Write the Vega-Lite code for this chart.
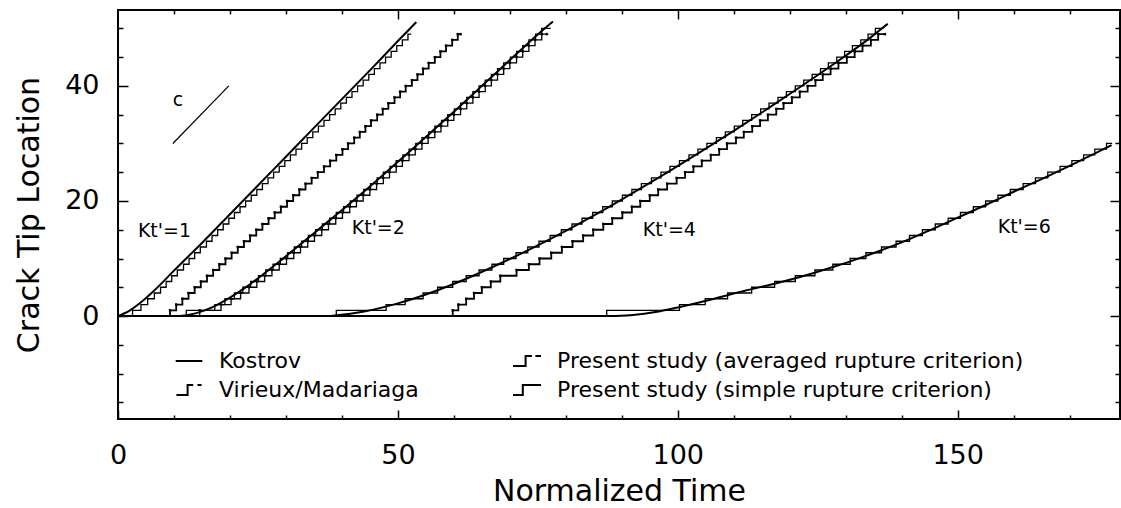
{
"$schema":"https://vega.github.io/schema/vega-lite/v6.json",
"width":1002,"height":409,
"autosize":{"type":"none"},
"padding":{"left":118,"top":10,"right":1,"bottom":89},
"background":"white",
"config":{
 "view":{"stroke":"black","strokeWidth":2},
 "font":"DejaVu Sans",
 "axis":{"grid":false,"domain":false,"tickColor":"black","tickWidth":1.5,"labelColor":"black","titleColor":"black","labelFont":"DejaVu Sans","titleFont":"DejaVu Sans","labelFontSize":27,"titleFontSize":30,"titleFontWeight":"normal","labelOverlap":false,"labelFlush":false}
},
"datasets":{
"curves":[
{"g":"K1","s":"Kostrov","t":0,"y":0},{"g":"K1","s":"Kostrov","t":2,"y":0.9},{"g":"K1","s":"Kostrov","t":4,"y":2.3},{"g":"K1","s":"Kostrov","t":6,"y":4.0},{"g":"K1","s":"Kostrov","t":8,"y":5.9},{"g":"K1","s":"Kostrov","t":10,"y":7.9},{"g":"K1","s":"Kostrov","t":15,"y":12.7},{"g":"K1","s":"Kostrov","t":20,"y":17.7},{"g":"K1","s":"Kostrov","t":25,"y":22.7},{"g":"K1","s":"Kostrov","t":30,"y":27.7},{"g":"K1","s":"Kostrov","t":35,"y":32.7},{"g":"K1","s":"Kostrov","t":40,"y":37.7},{"g":"K1","s":"Kostrov","t":45,"y":42.7},{"g":"K1","s":"Kostrov","t":50,"y":47.8},{"g":"K1","s":"Kostrov","t":53.3,"y":51.1},
{"g":"K2","s":"Kostrov","t":11,"y":0},{"g":"K2","s":"Kostrov","t":14,"y":0.5},{"g":"K2","s":"Kostrov","t":17,"y":1.6},{"g":"K2","s":"Kostrov","t":20,"y":3.2},{"g":"K2","s":"Kostrov","t":23,"y":5.1},{"g":"K2","s":"Kostrov","t":26,"y":7.3},{"g":"K2","s":"Kostrov","t":29,"y":9.6},{"g":"K2","s":"Kostrov","t":32,"y":12.0},{"g":"K2","s":"Kostrov","t":35,"y":14.4},{"g":"K2","s":"Kostrov","t":38,"y":16.8},{"g":"K2","s":"Kostrov","t":41,"y":19.2},{"g":"K2","s":"Kostrov","t":44,"y":21.7},{"g":"K2","s":"Kostrov","t":47,"y":24.2},{"g":"K2","s":"Kostrov","t":50,"y":26.8},{"g":"K2","s":"Kostrov","t":53,"y":29.4},{"g":"K2","s":"Kostrov","t":56,"y":32.0},{"g":"K2","s":"Kostrov","t":60,"y":35.5},{"g":"K2","s":"Kostrov","t":64,"y":39.1},{"g":"K2","s":"Kostrov","t":68,"y":42.7},{"g":"K2","s":"Kostrov","t":72,"y":46.3},{"g":"K2","s":"Kostrov","t":76,"y":49.8},{"g":"K2","s":"Kostrov","t":77.7,"y":51.2},
{"g":"K4","s":"Kostrov","t":38,"y":0},{"g":"K4","s":"Kostrov","t":44,"y":0.8},{"g":"K4","s":"Kostrov","t":50,"y":2.2},{"g":"K4","s":"Kostrov","t":56,"y":4.1},{"g":"K4","s":"Kostrov","t":62,"y":6.4},{"g":"K4","s":"Kostrov","t":68,"y":9.0},{"g":"K4","s":"Kostrov","t":74,"y":11.8},{"g":"K4","s":"Kostrov","t":80,"y":14.8},{"g":"K4","s":"Kostrov","t":86,"y":18.0},{"g":"K4","s":"Kostrov","t":92,"y":21.4},{"g":"K4","s":"Kostrov","t":98,"y":24.9},{"g":"K4","s":"Kostrov","t":104,"y":28.5},{"g":"K4","s":"Kostrov","t":110,"y":32.2},{"g":"K4","s":"Kostrov","t":116,"y":36.0},{"g":"K4","s":"Kostrov","t":122,"y":39.9},{"g":"K4","s":"Kostrov","t":128,"y":43.9},{"g":"K4","s":"Kostrov","t":134,"y":48.1},{"g":"K4","s":"Kostrov","t":137.5,"y":50.8},
{"g":"K6","s":"Kostrov","t":0,"y":0},{"g":"K6","s":"Kostrov","t":88,"y":0},{"g":"K6","s":"Kostrov","t":92,"y":0.2},{"g":"K6","s":"Kostrov","t":96,"y":0.7},{"g":"K6","s":"Kostrov","t":100,"y":1.5},{"g":"K6","s":"Kostrov","t":104,"y":2.4},{"g":"K6","s":"Kostrov","t":108,"y":3.4},{"g":"K6","s":"Kostrov","t":112,"y":4.4},{"g":"K6","s":"Kostrov","t":116,"y":5.3},{"g":"K6","s":"Kostrov","t":120,"y":6.3},{"g":"K6","s":"Kostrov","t":124,"y":7.4},{"g":"K6","s":"Kostrov","t":128,"y":8.6},{"g":"K6","s":"Kostrov","t":132,"y":9.9},{"g":"K6","s":"Kostrov","t":136,"y":11.3},{"g":"K6","s":"Kostrov","t":140,"y":12.8},{"g":"K6","s":"Kostrov","t":145,"y":14.9},{"g":"K6","s":"Kostrov","t":150,"y":17.1},{"g":"K6","s":"Kostrov","t":155,"y":19.3},{"g":"K6","s":"Kostrov","t":160,"y":21.6},{"g":"K6","s":"Kostrov","t":165,"y":23.8},{"g":"K6","s":"Kostrov","t":170,"y":26.1},{"g":"K6","s":"Kostrov","t":175,"y":28.5},{"g":"K6","s":"Kostrov","t":177.5,"y":29.7},
{"g":"A1","s":"avg","t":2.2,"y":0},{"g":"A1","s":"avg","t":2.6,"y":1},{"g":"A1","s":"avg","t":4.1,"y":2},{"g":"A1","s":"avg","t":5.3,"y":3},{"g":"A1","s":"avg","t":6.5,"y":4},{"g":"A1","s":"avg","t":7.6,"y":5},{"g":"A1","s":"avg","t":8.6,"y":6},{"g":"A1","s":"avg","t":9.6,"y":7},{"g":"A1","s":"avg","t":10.6,"y":8},{"g":"A1","s":"avg","t":11.7,"y":9},{"g":"A1","s":"avg","t":12.7,"y":10},{"g":"A1","s":"avg","t":13.7,"y":11},{"g":"A1","s":"avg","t":14.7,"y":12},{"g":"A1","s":"avg","t":15.8,"y":13},{"g":"A1","s":"avg","t":16.8,"y":14},{"g":"A1","s":"avg","t":17.8,"y":15},{"g":"A1","s":"avg","t":18.8,"y":16},{"g":"A1","s":"avg","t":19.8,"y":17},{"g":"A1","s":"avg","t":20.8,"y":18},{"g":"A1","s":"avg","t":21.8,"y":19},{"g":"A1","s":"avg","t":22.8,"y":20},{"g":"A1","s":"avg","t":23.8,"y":21},{"g":"A1","s":"avg","t":24.8,"y":22},{"g":"A1","s":"avg","t":25.8,"y":23},{"g":"A1","s":"avg","t":26.8,"y":24},{"g":"A1","s":"avg","t":27.8,"y":25},{"g":"A1","s":"avg","t":28.8,"y":26},{"g":"A1","s":"avg","t":29.8,"y":27},{"g":"A1","s":"avg","t":30.8,"y":28},{"g":"A1","s":"avg","t":31.8,"y":29},{"g":"A1","s":"avg","t":32.8,"y":30},{"g":"A1","s":"avg","t":33.8,"y":31},{"g":"A1","s":"avg","t":34.8,"y":32},{"g":"A1","s":"avg","t":35.8,"y":33},{"g":"A1","s":"avg","t":36.8,"y":34},{"g":"A1","s":"avg","t":37.8,"y":35},{"g":"A1","s":"avg","t":38.8,"y":36},{"g":"A1","s":"avg","t":39.8,"y":37},{"g":"A1","s":"avg","t":40.8,"y":38},{"g":"A1","s":"avg","t":41.8,"y":39},{"g":"A1","s":"avg","t":42.8,"y":40},{"g":"A1","s":"avg","t":43.8,"y":41},{"g":"A1","s":"avg","t":44.8,"y":42},{"g":"A1","s":"avg","t":45.8,"y":43},{"g":"A1","s":"avg","t":46.8,"y":44},{"g":"A1","s":"avg","t":47.8,"y":45},{"g":"A1","s":"avg","t":48.8,"y":46},{"g":"A1","s":"avg","t":49.8,"y":47},{"g":"A1","s":"avg","t":50.8,"y":48},{"g":"A1","s":"avg","t":51.8,"y":49},{"g":"A1","s":"avg","t":52.4,"y":49},
{"g":"S1","s":"simple","t":9.0,"y":0},{"g":"S1","s":"simple","t":9.3,"y":1},{"g":"S1","s":"simple","t":10.4,"y":2},{"g":"S1","s":"simple","t":11.5,"y":3},{"g":"S1","s":"simple","t":12.6,"y":4},{"g":"S1","s":"simple","t":13.7,"y":5},{"g":"S1","s":"simple","t":14.8,"y":6},{"g":"S1","s":"simple","t":15.9,"y":7},{"g":"S1","s":"simple","t":17.0,"y":8},{"g":"S1","s":"simple","t":18.1,"y":9},{"g":"S1","s":"simple","t":19.2,"y":10},{"g":"S1","s":"simple","t":20.3,"y":11},{"g":"S1","s":"simple","t":21.4,"y":12},{"g":"S1","s":"simple","t":22.5,"y":13},{"g":"S1","s":"simple","t":23.6,"y":14},{"g":"S1","s":"simple","t":24.7,"y":15},{"g":"S1","s":"simple","t":25.8,"y":16},{"g":"S1","s":"simple","t":26.9,"y":17},{"g":"S1","s":"simple","t":28.0,"y":18},{"g":"S1","s":"simple","t":29.1,"y":19},{"g":"S1","s":"simple","t":30.2,"y":20},{"g":"S1","s":"simple","t":31.3,"y":21},{"g":"S1","s":"simple","t":32.4,"y":22},{"g":"S1","s":"simple","t":33.5,"y":23},{"g":"S1","s":"simple","t":34.6,"y":24},{"g":"S1","s":"simple","t":35.7,"y":25},{"g":"S1","s":"simple","t":36.8,"y":26},{"g":"S1","s":"simple","t":37.9,"y":27},{"g":"S1","s":"simple","t":39.0,"y":28},{"g":"S1","s":"simple","t":40.1,"y":29},{"g":"S1","s":"simple","t":41.1,"y":30},{"g":"S1","s":"simple","t":42.2,"y":31},{"g":"S1","s":"simple","t":43.2,"y":32},{"g":"S1","s":"simple","t":44.2,"y":33},{"g":"S1","s":"simple","t":45.2,"y":34},{"g":"S1","s":"simple","t":46.3,"y":35},{"g":"S1","s":"simple","t":47.3,"y":36},{"g":"S1","s":"simple","t":48.3,"y":37},{"g":"S1","s":"simple","t":49.4,"y":38},{"g":"S1","s":"simple","t":50.4,"y":39},{"g":"S1","s":"simple","t":51.4,"y":40},{"g":"S1","s":"simple","t":52.5,"y":41},{"g":"S1","s":"simple","t":53.5,"y":42},{"g":"S1","s":"simple","t":54.5,"y":43},{"g":"S1","s":"simple","t":55.5,"y":44},{"g":"S1","s":"simple","t":56.6,"y":45},{"g":"S1","s":"simple","t":57.6,"y":46},{"g":"S1","s":"simple","t":58.6,"y":47},{"g":"S1","s":"simple","t":59.7,"y":48},{"g":"S1","s":"simple","t":60.7,"y":49},{"g":"S1","s":"simple","t":61.2,"y":49},
{"g":"A2","s":"avg","t":11.9,"y":0},{"g":"A2","s":"avg","t":12.2,"y":1},{"g":"A2","s":"avg","t":17.3,"y":2},{"g":"A2","s":"avg","t":19.1,"y":3},{"g":"A2","s":"avg","t":20.8,"y":4},{"g":"A2","s":"avg","t":22.3,"y":5},{"g":"A2","s":"avg","t":23.7,"y":6},{"g":"A2","s":"avg","t":25.1,"y":7},{"g":"A2","s":"avg","t":26.4,"y":8},{"g":"A2","s":"avg","t":27.7,"y":9},{"g":"A2","s":"avg","t":29.0,"y":10},{"g":"A2","s":"avg","t":30.3,"y":11},{"g":"A2","s":"avg","t":31.5,"y":12},{"g":"A2","s":"avg","t":32.8,"y":13},{"g":"A2","s":"avg","t":34.0,"y":14},{"g":"A2","s":"avg","t":35.3,"y":15},{"g":"A2","s":"avg","t":36.5,"y":16},{"g":"A2","s":"avg","t":37.8,"y":17},{"g":"A2","s":"avg","t":39.0,"y":18},{"g":"A2","s":"avg","t":40.3,"y":19},{"g":"A2","s":"avg","t":41.5,"y":20},{"g":"A2","s":"avg","t":42.7,"y":21},{"g":"A2","s":"avg","t":43.9,"y":22},{"g":"A2","s":"avg","t":45.1,"y":23},{"g":"A2","s":"avg","t":46.3,"y":24},{"g":"A2","s":"avg","t":47.4,"y":25},{"g":"A2","s":"avg","t":48.6,"y":26},{"g":"A2","s":"avg","t":49.7,"y":27},{"g":"A2","s":"avg","t":50.9,"y":28},{"g":"A2","s":"avg","t":52.0,"y":29},{"g":"A2","s":"avg","t":53.2,"y":30},{"g":"A2","s":"avg","t":54.3,"y":31},{"g":"A2","s":"avg","t":55.5,"y":32},{"g":"A2","s":"avg","t":56.6,"y":33},{"g":"A2","s":"avg","t":57.8,"y":34},{"g":"A2","s":"avg","t":58.9,"y":35},{"g":"A2","s":"avg","t":60.1,"y":36},{"g":"A2","s":"avg","t":61.2,"y":37},{"g":"A2","s":"avg","t":62.3,"y":38},{"g":"A2","s":"avg","t":63.4,"y":39},{"g":"A2","s":"avg","t":64.5,"y":40},{"g":"A2","s":"avg","t":65.6,"y":41},{"g":"A2","s":"avg","t":66.7,"y":42},{"g":"A2","s":"avg","t":67.8,"y":43},{"g":"A2","s":"avg","t":68.9,"y":44},{"g":"A2","s":"avg","t":70.1,"y":45},{"g":"A2","s":"avg","t":71.2,"y":46},{"g":"A2","s":"avg","t":72.3,"y":47},{"g":"A2","s":"avg","t":73.4,"y":48},{"g":"A2","s":"avg","t":74.6,"y":49},{"g":"A2","s":"avg","t":75.7,"y":50},{"g":"A2","s":"avg","t":77.3,"y":50},
{"g":"V2","s":"VM","t":14.3,"y":0},{"g":"V2","s":"VM","t":14.6,"y":1},{"g":"V2","s":"VM","t":18.4,"y":2},{"g":"V2","s":"VM","t":20.2,"y":3},{"g":"V2","s":"VM","t":21.9,"y":4},{"g":"V2","s":"VM","t":23.4,"y":5},{"g":"V2","s":"VM","t":24.8,"y":6},{"g":"V2","s":"VM","t":26.2,"y":7},{"g":"V2","s":"VM","t":27.5,"y":8},{"g":"V2","s":"VM","t":28.8,"y":9},{"g":"V2","s":"VM","t":30.1,"y":10},{"g":"V2","s":"VM","t":31.4,"y":11},{"g":"V2","s":"VM","t":32.6,"y":12},{"g":"V2","s":"VM","t":33.9,"y":13},{"g":"V2","s":"VM","t":35.1,"y":14},{"g":"V2","s":"VM","t":36.4,"y":15},{"g":"V2","s":"VM","t":37.6,"y":16},{"g":"V2","s":"VM","t":38.9,"y":17},{"g":"V2","s":"VM","t":40.1,"y":18},{"g":"V2","s":"VM","t":41.4,"y":19},{"g":"V2","s":"VM","t":42.6,"y":20},{"g":"V2","s":"VM","t":43.8,"y":21},{"g":"V2","s":"VM","t":45.0,"y":22},{"g":"V2","s":"VM","t":46.2,"y":23},{"g":"V2","s":"VM","t":47.4,"y":24},{"g":"V2","s":"VM","t":48.5,"y":25},{"g":"V2","s":"VM","t":49.7,"y":26},{"g":"V2","s":"VM","t":50.8,"y":27},{"g":"V2","s":"VM","t":52.0,"y":28},{"g":"V2","s":"VM","t":53.1,"y":29},{"g":"V2","s":"VM","t":54.3,"y":30},{"g":"V2","s":"VM","t":55.4,"y":31},{"g":"V2","s":"VM","t":56.6,"y":32},{"g":"V2","s":"VM","t":57.7,"y":33},{"g":"V2","s":"VM","t":58.9,"y":34},{"g":"V2","s":"VM","t":60.0,"y":35},{"g":"V2","s":"VM","t":61.2,"y":36},{"g":"V2","s":"VM","t":62.3,"y":37},{"g":"V2","s":"VM","t":63.4,"y":38},{"g":"V2","s":"VM","t":64.5,"y":39},{"g":"V2","s":"VM","t":65.6,"y":40},{"g":"V2","s":"VM","t":66.7,"y":41},{"g":"V2","s":"VM","t":67.8,"y":42},{"g":"V2","s":"VM","t":68.9,"y":43},{"g":"V2","s":"VM","t":70.0,"y":44},{"g":"V2","s":"VM","t":71.2,"y":45},{"g":"V2","s":"VM","t":72.3,"y":46},{"g":"V2","s":"VM","t":73.4,"y":47},{"g":"V2","s":"VM","t":74.5,"y":48},{"g":"V2","s":"VM","t":75.7,"y":49},{"g":"V2","s":"VM","t":76.6,"y":49},
{"g":"A4","s":"avg","t":38.7,"y":0},{"g":"A4","s":"avg","t":39.0,"y":1},{"g":"A4","s":"avg","t":47.9,"y":2},{"g":"A4","s":"avg","t":51.3,"y":3},{"g":"A4","s":"avg","t":54.5,"y":4},{"g":"A4","s":"avg","t":57.1,"y":5},{"g":"A4","s":"avg","t":59.8,"y":6},{"g":"A4","s":"avg","t":62.2,"y":7},{"g":"A4","s":"avg","t":64.5,"y":8},{"g":"A4","s":"avg","t":66.8,"y":9},{"g":"A4","s":"avg","t":68.9,"y":10},{"g":"A4","s":"avg","t":71.1,"y":11},{"g":"A4","s":"avg","t":73.2,"y":12},{"g":"A4","s":"avg","t":75.2,"y":13},{"g":"A4","s":"avg","t":77.2,"y":14},{"g":"A4","s":"avg","t":79.2,"y":15},{"g":"A4","s":"avg","t":81.1,"y":16},{"g":"A4","s":"avg","t":82.9,"y":17},{"g":"A4","s":"avg","t":84.8,"y":18},{"g":"A4","s":"avg","t":86.6,"y":19},{"g":"A4","s":"avg","t":88.3,"y":20},{"g":"A4","s":"avg","t":90.1,"y":21},{"g":"A4","s":"avg","t":91.8,"y":22},{"g":"A4","s":"avg","t":93.5,"y":23},{"g":"A4","s":"avg","t":95.3,"y":24},{"g":"A4","s":"avg","t":97.0,"y":25},{"g":"A4","s":"avg","t":98.6,"y":26},{"g":"A4","s":"avg","t":100.3,"y":27},{"g":"A4","s":"avg","t":102.0,"y":28},{"g":"A4","s":"avg","t":103.6,"y":29},{"g":"A4","s":"avg","t":105.2,"y":30},{"g":"A4","s":"avg","t":106.9,"y":31},{"g":"A4","s":"avg","t":108.5,"y":32},{"g":"A4","s":"avg","t":110.1,"y":33},{"g":"A4","s":"avg","t":111.6,"y":34},{"g":"A4","s":"avg","t":113.2,"y":35},{"g":"A4","s":"avg","t":114.8,"y":36},{"g":"A4","s":"avg","t":116.3,"y":37},{"g":"A4","s":"avg","t":117.9,"y":38},{"g":"A4","s":"avg","t":119.4,"y":39},{"g":"A4","s":"avg","t":121.0,"y":40},{"g":"A4","s":"avg","t":122.5,"y":41},{"g":"A4","s":"avg","t":124.0,"y":42},{"g":"A4","s":"avg","t":125.5,"y":43},{"g":"A4","s":"avg","t":126.9,"y":44},{"g":"A4","s":"avg","t":128.4,"y":45},{"g":"A4","s":"avg","t":129.8,"y":46},{"g":"A4","s":"avg","t":131.2,"y":47},{"g":"A4","s":"avg","t":132.7,"y":48},{"g":"A4","s":"avg","t":134.0,"y":49},{"g":"A4","s":"avg","t":135.3,"y":50},{"g":"A4","s":"avg","t":136.8,"y":50},
{"g":"S4","s":"simple","t":59.5,"y":0},{"g":"S4","s":"simple","t":59.8,"y":1},{"g":"S4","s":"simple","t":60.8,"y":2},{"g":"S4","s":"simple","t":62.2,"y":3},{"g":"S4","s":"simple","t":63.6,"y":4},{"g":"S4","s":"simple","t":65.0,"y":5},{"g":"S4","s":"simple","t":66.6,"y":6},{"g":"S4","s":"simple","t":68.3,"y":7},{"g":"S4","s":"simple","t":71.2,"y":8},{"g":"S4","s":"simple","t":73.4,"y":9},{"g":"S4","s":"simple","t":75.3,"y":10},{"g":"S4","s":"simple","t":77.4,"y":11},{"g":"S4","s":"simple","t":79.3,"y":12},{"g":"S4","s":"simple","t":81.2,"y":13},{"g":"S4","s":"simple","t":83.1,"y":14},{"g":"S4","s":"simple","t":84.9,"y":15},{"g":"S4","s":"simple","t":86.7,"y":16},{"g":"S4","s":"simple","t":88.3,"y":17},{"g":"S4","s":"simple","t":90.1,"y":18},{"g":"S4","s":"simple","t":91.8,"y":19},{"g":"S4","s":"simple","t":93.3,"y":20},{"g":"S4","s":"simple","t":95.0,"y":21},{"g":"S4","s":"simple","t":96.5,"y":22},{"g":"S4","s":"simple","t":98.1,"y":23},{"g":"S4","s":"simple","t":99.8,"y":24},{"g":"S4","s":"simple","t":101.3,"y":25},{"g":"S4","s":"simple","t":102.8,"y":26},{"g":"S4","s":"simple","t":104.3,"y":27},{"g":"S4","s":"simple","t":105.9,"y":28},{"g":"S4","s":"simple","t":107.4,"y":29},{"g":"S4","s":"simple","t":108.8,"y":30},{"g":"S4","s":"simple","t":110.4,"y":31},{"g":"S4","s":"simple","t":111.8,"y":32},{"g":"S4","s":"simple","t":113.3,"y":33},{"g":"S4","s":"simple","t":114.7,"y":34},{"g":"S4","s":"simple","t":116.1,"y":35},{"g":"S4","s":"simple","t":117.6,"y":36},{"g":"S4","s":"simple","t":118.9,"y":37},{"g":"S4","s":"simple","t":120.4,"y":38},{"g":"S4","s":"simple","t":121.8,"y":39},{"g":"S4","s":"simple","t":123.2,"y":40},{"g":"S4","s":"simple","t":124.6,"y":41},{"g":"S4","s":"simple","t":125.9,"y":42},{"g":"S4","s":"simple","t":127.3,"y":43},{"g":"S4","s":"simple","t":128.7,"y":44},{"g":"S4","s":"simple","t":130.2,"y":45},{"g":"S4","s":"simple","t":131.6,"y":46},{"g":"S4","s":"simple","t":133.0,"y":47},{"g":"S4","s":"simple","t":134.5,"y":48},{"g":"S4","s":"simple","t":135.8,"y":49},{"g":"S4","s":"simple","t":137.0,"y":49},
{"g":"A6","s":"avg","t":87.0,"y":0},{"g":"A6","s":"avg","t":87.3,"y":1},{"g":"A6","s":"avg","t":100.3,"y":2},{"g":"A6","s":"avg","t":104.9,"y":3},{"g":"A6","s":"avg","t":108.9,"y":4},{"g":"A6","s":"avg","t":113.2,"y":5},{"g":"A6","s":"avg","t":117.3,"y":6},{"g":"A6","s":"avg","t":121.0,"y":7},{"g":"A6","s":"avg","t":124.5,"y":8},{"g":"A6","s":"avg","t":127.7,"y":9},{"g":"A6","s":"avg","t":130.8,"y":10},{"g":"A6","s":"avg","t":133.6,"y":11},{"g":"A6","s":"avg","t":136.4,"y":12},{"g":"A6","s":"avg","t":139.0,"y":13},{"g":"A6","s":"avg","t":141.4,"y":14},{"g":"A6","s":"avg","t":143.7,"y":15},{"g":"A6","s":"avg","t":146.0,"y":16},{"g":"A6","s":"avg","t":148.3,"y":17},{"g":"A6","s":"avg","t":150.5,"y":18},{"g":"A6","s":"avg","t":152.8,"y":19},{"g":"A6","s":"avg","t":155.0,"y":20},{"g":"A6","s":"avg","t":157.2,"y":21},{"g":"A6","s":"avg","t":159.4,"y":22},{"g":"A6","s":"avg","t":161.7,"y":23},{"g":"A6","s":"avg","t":163.9,"y":24},{"g":"A6","s":"avg","t":166.1,"y":25},{"g":"A6","s":"avg","t":168.3,"y":26},{"g":"A6","s":"avg","t":170.4,"y":27},{"g":"A6","s":"avg","t":172.5,"y":28},{"g":"A6","s":"avg","t":174.5,"y":29},{"g":"A6","s":"avg","t":176.6,"y":30},{"g":"A6","s":"avg","t":177.6,"y":30}
],
"notes":[{"label":"Kt'=1","t":8.3,"y":14.8},{"label":"Kt'=2","t":46.5,"y":15.3},{"label":"Kt'=4","t":98.5,"y":15.0},{"label":"Kt'=6","t":161.9,"y":15.5},{"label":"c","t":10.7,"y":37.6}],
"cline":[{"t":9.8,"y":30},{"t":19.8,"y":40}]
},
"layer":[
{"data":{"name":"curves"},"transform":[{"filter":"datum.s === 'Kostrov'"}],
 "mark":{"type":"line","interpolate":"monotone","strokeWidth":2},
 "encoding":{
  "x":{"field":"t","type":"quantitative","scale":{"domain":[0,179],"nice":false,"zero":false},
   "axis":{"orient":"bottom","values":[0,10,20,30,40,50,60,70,80,90,100,110,120,130,140,150,160,170],"tickSize":{"condition":{"test":"datum.value % 50 === 0","value":-9},"value":-4},"labelExpr":"datum.value % 50 === 0 ? datum.label : ''","labelPadding":32,"title":"Normalized Time","titlePadding":3}},
  "y":{"field":"y","type":"quantitative","scale":{"domain":[-17.9,53.2],"nice":false,"zero":false},
   "axis":{"orient":"left","values":[-15,-10,-5,0,5,10,15,20,25,30,35,40,45,50],"tickSize":{"condition":{"test":"datum.value % 20 === 0","value":-10},"value":-5},"labelExpr":"datum.value % 20 === 0 ? datum.label : ''","labelPadding":29,"title":"Crack Tip Location","titlePadding":20}},
  "detail":{"field":"g"},
  "color":{"field":"s","type":"nominal","scale":{"domain":["Kostrov","VM","avg","simple"],"range":["black","black","black","black"]},
   "legend":{"title":null,"orient":"none","legendX":56,"legendY":336,"columns":2,"columnPadding":90,"rowPadding":3,"labelFontSize":22,"labelFont":"DejaVu Sans","labelColor":"black","symbolSize":784,"symbolStrokeWidth":2,"labelOffset":15,"labelLimit":0,
    "labelExpr":"datum.value === 'Kostrov' ? 'Kostrov' : datum.value === 'avg' ? 'Present study (averaged rupture criterion)' : datum.value === 'VM' ? 'Virieux/Madariaga' : 'Present study (simple rupture criterion)'",
    "encode":{"symbols":{"update":{"shape":{"signal":"datum.value === 'Kostrov' ? 'M-0.95,0H0.95' : datum.value === 'avg' ? 'M-1,0.35H-0.1V-0.35H0.35M0.6,-0.35H1' : datum.value === 'VM' ? 'M-0.9,0.35H-0.1V-0.35H0.3M0.6,-0.35H0.9' : 'M-1,0.35H-0.3V-0.35H1'"},"fill":{"value":"transparent"},"stroke":{"value":"black"},"strokeWidth":{"value":2}}}}}}
 }},
{"data":{"name":"curves"},"transform":[{"filter":"datum.s === 'avg'"}],
 "mark":{"type":"line","interpolate":"step-after","strokeWidth":1.3},
 "encoding":{
  "x":{"field":"t","type":"quantitative","scale":{"domain":[0,179],"nice":false,"zero":false},
   "axis":{"orient":"top","values":[10,20,30,40,50,60,70,80,90,100,110,120,130,140,150,160,170],"tickSize":{"condition":{"test":"datum.value % 50 === 0","value":-9},"value":-4},"labels":false,"title":null}},
  "y":{"field":"y","type":"quantitative","scale":{"domain":[-17.9,53.2],"nice":false,"zero":false},
   "axis":{"orient":"right","values":[-15,-10,-5,0,5,10,15,20,25,30,35,40,45,50],"tickSize":{"condition":{"test":"datum.value % 20 === 0","value":-10},"value":-5},"labels":false,"title":null}},
  "detail":{"field":"g"},
  "color":{"field":"s","type":"nominal"}
 }},
{"data":{"name":"curves"},"transform":[{"filter":"datum.s === 'VM'"}],
 "mark":{"type":"line","interpolate":"step-after","strokeWidth":1.3},
 "encoding":{
  "x":{"field":"t","type":"quantitative","axis":null},
  "y":{"field":"y","type":"quantitative","axis":null},
  "detail":{"field":"g"},
  "color":{"field":"s","type":"nominal"}
 }},
{"data":{"name":"curves"},"transform":[{"filter":"datum.s === 'simple'"}],
 "mark":{"type":"line","interpolate":"step-after","strokeWidth":1.8},
 "encoding":{
  "x":{"field":"t","type":"quantitative","axis":null},
  "y":{"field":"y","type":"quantitative","axis":null},
  "detail":{"field":"g"},
  "color":{"field":"s","type":"nominal"}
 }},
{"data":{"name":"curves"},"transform":[{"filter":"datum.s === 'VM' && datum.y > 0"}],
 "mark":{"type":"point","filled":true,"size":7,"color":"black","opacity":1},
 "encoding":{
  "x":{"field":"t","type":"quantitative","axis":null},
  "y":{"field":"y","type":"quantitative","axis":null}
 }},
{"data":{"name":"curves"},"transform":[{"filter":"datum.s === 'simple' && datum.y > 0"}],
 "mark":{"type":"point","shape":"square","filled":true,"size":6,"color":"black","opacity":1},
 "encoding":{
  "x":{"field":"t","type":"quantitative","axis":null},
  "y":{"field":"y","type":"quantitative","axis":null}
 }},
{"data":{"name":"cline"},
 "mark":{"type":"line","strokeWidth":1.2,"color":"black"},
 "encoding":{
  "x":{"field":"t","type":"quantitative","axis":null},
  "y":{"field":"y","type":"quantitative","axis":null}
 }},
{"data":{"name":"notes"},
 "mark":{"type":"text","fontSize":19,"font":"DejaVu Sans","color":"black","align":"center","baseline":"middle"},
 "encoding":{
  "x":{"field":"t","type":"quantitative","axis":null},
  "y":{"field":"y","type":"quantitative","axis":null},
  "text":{"field":"label"}
 }}
],
"resolve":{"axis":{"x":"independent","y":"independent"}}
}
